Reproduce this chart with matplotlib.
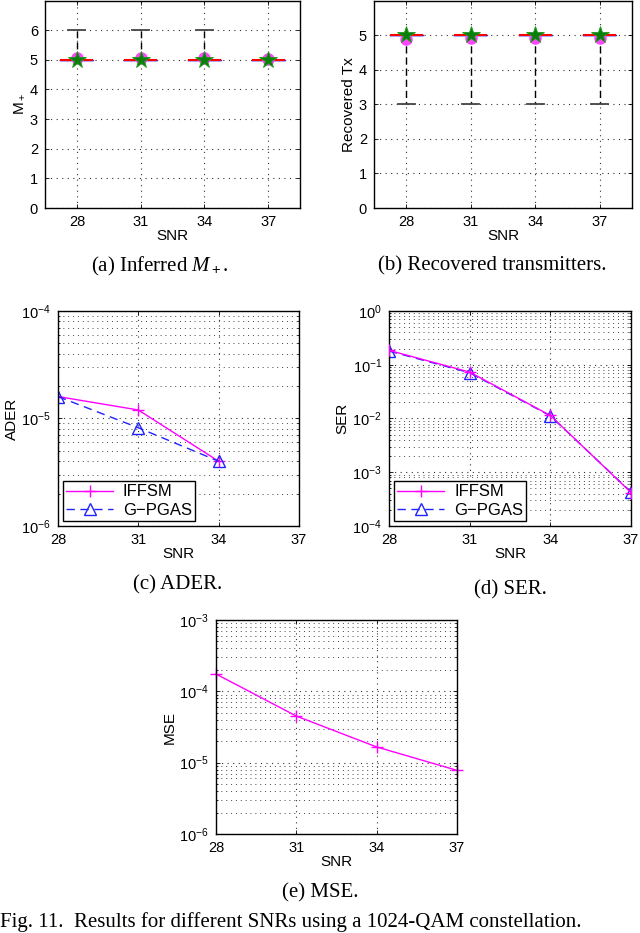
import matplotlib
matplotlib.use('Agg')
import matplotlib.pyplot as plt

plt.rcParams['font.family'] = ['Liberation Sans', 'DejaVu Sans']
plt.rcParams['mathtext.fontset'] = 'custom'
plt.rcParams['mathtext.rm'] = 'Liberation Sans'
plt.rcParams['mathtext.it'] = 'Liberation Serif:italic'
plt.rcParams['font.size'] = 10.5

W, H = 640, 933

# data
snr = [28, 31, 34, 37]

inferred_med = [5, 5, 5, 5]
inferred_lo = [5, 5, 5, 5]
inferred_hi = [6, 6, 6, 5]
inferred_mean = [5.06, 5.06, 5.06, 5.04]
true_m = [5, 5, 5, 5]

recovered_med = [5, 5, 5, 5]
recovered_lo = [3, 3, 3, 3]
recovered_hi = [5, 5, 5, 5]
recovered_mean = [4.9, 4.93, 4.93, 4.93]
true_tx = [5, 5, 5, 5]

snr_ader = [28, 31, 34]
ader_iffsm = [1.6e-5, 1.2e-5, 4.0e-6]
ader_gpgas = [1.6e-5, 8.2e-6, 4.0e-6]

ser_iffsm = [0.185, 0.073, 0.0114, 4.2e-4]
ser_gpgas = [0.18, 0.071, 0.0112, 4.3e-4]

mse_iffsm = [1.75e-4, 4.5e-5, 1.66e-5, 7.8e-6]

captions = ['(a) Inferred $M_+$.', '(b) Recovered transmitters.',
            '(c) ADER.', '(d) SER.', '(e) MSE.']
fig_caption = 'Fig. 11.  Results for different SNRs using a 1024-QAM constellation.'

DOTS = (0, (1, 4))


def add_axes(fig, left, top, right, bottom):
    return fig.add_axes([left / W, 1 - bottom / H, (right - left) / W, (bottom - top) / H])


def style(ax):
    ax.tick_params(direction='in', top=True, right=True, which='both', length=3, width=0.6, pad=5)
    ax.tick_params(which='minor', length=1.5)
    for s in ax.spines.values():
        s.set_linewidth(1.0)
    ax.set_xlabel('SNR', labelpad=0, fontsize=11)


def boxes(ax, med, lo, hi, mean, true):
    stats = []
    for i in range(len(snr)):
        stats.append(dict(med=med[i], q1=med[i], q3=med[i], whislo=lo[i], whishi=hi[i]))
    ax.bxp(stats, positions=snr, widths=1.55, capwidths=0.8, showfliers=False,
           boxprops=dict(color='#3030ff', lw=1.0),
           medianprops=dict(color='#ff0000', lw=1.5),
           whiskerprops=dict(color='black', lw=1.0, ls=(0, (5, 3))),
           capprops=dict(color='#444444', lw=1.3), manage_ticks=False)
    ax.plot(snr, mean, 'o', color='#ff44ff', ms=8, mec='#ff44ff', zorder=4)
    ax.plot(snr, true, '*', color='#0a7d0a', ms=13, mec='#1a9a1a', mew=0.6, zorder=5)


def grid(ax):
    ax.grid(True, which='major', ls=DOTS, color='#333333', lw=0.8)


fig = plt.figure(figsize=(W / 100, H / 100), dpi=100)

# (a)
ax = add_axes(fig, 45, 0.5, 300, 208)
boxes(ax, inferred_med, inferred_lo, inferred_hi, inferred_mean, true_m)
ax.set_xlim(26.5, 38.5)
ax.set_ylim(0, 7)
ax.set_xticks(snr)
ax.set_yticks(range(0, 7))
ax.set_ylabel('M$_+$', labelpad=2, fontsize=11)
grid(ax)
style(ax)

# (b)
ax = add_axes(fig, 374, 0.5, 632, 208)
boxes(ax, recovered_med, recovered_lo, recovered_hi, recovered_mean, true_tx)
ax.set_xlim(26.5, 38.5)
ax.set_ylim(0, 6)
ax.set_xticks(snr)
ax.set_yticks(range(0, 6))
ax.set_ylabel('Recovered Tx', labelpad=2, fontsize=11)
grid(ax)
style(ax)


def log_panel(ax, ylim, ylabel):
    ax.set_yscale('log')
    ax.set_xlim(28, 37)
    ax.set_ylim(*ylim)
    ax.set_xticks(snr)
    ax.grid(True, which='major', ls=DOTS, color='#333333', lw=0.8)
    ax.grid(True, which='minor', axis='y', ls=DOTS, color='#444444', lw=0.7)
    ax.set_ylabel(ylabel, labelpad=2, fontsize=11)
    style(ax)


def legend(ax):
    leg = ax.legend(loc='lower left', fancybox=False, edgecolor='black', framealpha=1,
                    borderaxespad=0.3, handlelength=2.8, fontsize=12,
                    borderpad=0.2, labelspacing=0.2, handletextpad=0.6)
    leg.get_frame().set_linewidth(1.0)


# (c)
ax = add_axes(fig, 58, 311, 299, 526)
ax.plot(snr_ader, ader_iffsm, '-+', color='#ff00ff', lw=1.0, ms=9, label='IFFSM')
ax.plot(snr_ader, ader_gpgas, '--^', color='#2222ff', lw=1.0, ms=8, mfc='none',
        dashes=(6, 4), label='G\u2212PGAS')
log_panel(ax, (1e-6, 1e-4), 'ADER')
legend(ax)

# (d)
ax = add_axes(fig, 389, 311, 631, 526)
ax.plot(snr, ser_iffsm, '-+', color='#ff00ff', lw=1.0, ms=9, label='IFFSM', zorder=3)
ax.plot(snr, ser_gpgas, '--^', color='#2222ff', lw=1.0, ms=8, mfc='none',
        dashes=(6, 4), label='G\u2212PGAS', zorder=2)
log_panel(ax, (1e-4, 1), 'SER')
legend(ax)

# (e)
ax = add_axes(fig, 216, 620, 457, 834)
ax.plot(snr, mse_iffsm, '-+', color='#ff00ff', lw=1.0, ms=9, clip_on=False)
log_panel(ax, (1e-6, 1e-3), 'MSE')

cap_pos = [(160, 266), (492, 266), (178, 585), (510, 590), (320, 893)]
for (x, y), t in zip(cap_pos, captions):
    fig.text(x / W, 1 - y / H, t, ha='center', va='center',
             family=['Liberation Serif', 'DejaVu Serif'], fontsize=15)
fig.text(0 / W, 1 - 932 / H, fig_caption, ha='left', va='bottom',
         family=['Liberation Serif', 'DejaVu Serif'], fontsize=15)

fig.savefig('out.png', dpi=100)
